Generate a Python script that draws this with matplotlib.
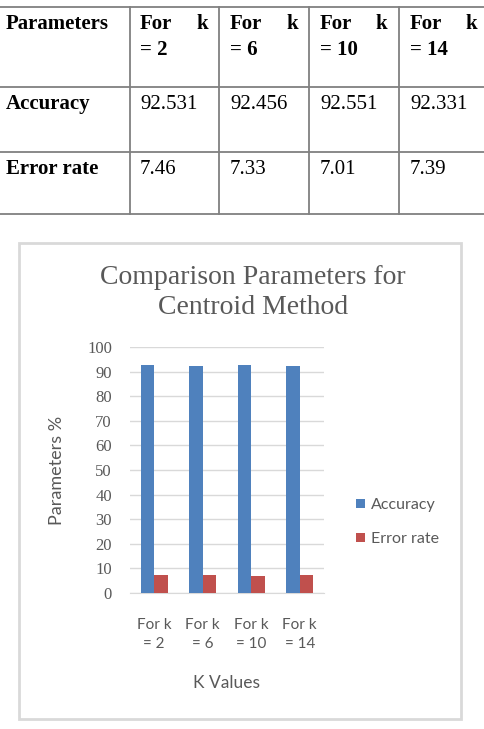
import numpy as np
import matplotlib.pyplot as plt
from matplotlib.patches import Rectangle

# Datos
categorias = ['For k\n= 2', 'For k\n= 6', 'For k\n= 10', 'For k\n= 14']
k_vals = ['2', '6', '10', '14']
accuracy = [92.531, 92.456, 92.551, 92.331]
error_rate = [7.46, 7.33, 7.01, 7.39]
acc_txt = ['92.531', '92.456', '92.551', '92.331']
err_txt = ['7.46', '7.33', '7.01', '7.39']

W, H = 485, 729
fig = plt.figure(figsize=(W/100, H/100), dpi=100)

def fx(px): return px/W
def fy(py): return 1 - py/H

# ---------------- tabla ----------------
lc = '#808080'
serif = 'Liberation Serif'
fig.add_artist(plt.Line2D([0, 1], [fy(7), fy(7)], color=lc, lw=1.3))
for yy in [87, 152, 214]:
    fig.add_artist(plt.Line2D([0, 1], [fy(yy), fy(yy)], color=lc, lw=1.3))
for xx in [130, 219, 309, 399]:
    fig.add_artist(plt.Line2D([fx(xx), fx(xx)], [fy(7), fy(214)], color=lc, lw=1.3))

fs = 15
fig.text(fx(6), fy(29), 'Parameters', family=serif, weight='bold', fontsize=fs, va='baseline')
fig.text(fx(6), fy(109), 'Accuracy', family=serif, weight='bold', fontsize=fs, va='baseline')
fig.text(fx(6), fy(174), 'Error rate', family=serif, weight='bold', fontsize=fs, va='baseline')
col_x = [140, 230, 320, 410]
k_right = [208, 298, 387, 477]
for i in range(4):
    fig.text(fx(col_x[i]), fy(29), 'For', family=serif, weight='bold', fontsize=fs, va='baseline')
    fig.text(fx(k_right[i]), fy(29), 'k', family=serif, weight='bold', fontsize=fs, va='baseline', ha='right')
    fig.text(fx(col_x[i]), fy(55), '= ' + k_vals[i], family=serif, weight='bold', fontsize=fs, va='baseline')
    fig.text(fx(col_x[i]), fy(109), acc_txt[i], family=serif, fontsize=fs, va='baseline')
    fig.text(fx(col_x[i]), fy(174), err_txt[i], family=serif, fontsize=fs, va='baseline')

# ---------------- grafica ----------------
fig.add_artist(Rectangle((fx(19), fy(719)), fx(461) - fx(19), fy(243) - fy(719),
                         transform=fig.transFigure, fill=False, ec='#D9D9D9', lw=2))

gris = '#595959'
fig.text(fx(253), fy(277), 'Comparison Parameters for', family=serif, fontsize=20,
         color=gris, ha='center', va='center')
fig.text(fx(253), fy(308), 'Centroid Method', family=serif, fontsize=20,
         color=gris, ha='center', va='center')

ax = fig.add_axes([fx(130), fy(593), fx(324) - fx(130), fy(347) - fy(593)])
x = np.arange(len(categorias))
bw = 0.28
ax.bar(x - bw/2, accuracy, bw, color='#4F81BD', label='Accuracy', zorder=3)
ax.bar(x + bw/2, error_rate, bw, color='#C0504D', label='Error rate', zorder=3)
ax.set_xlim(-0.5, 3.5)
ax.set_ylim(0, 100)
ax.set_yticks(np.arange(0, 101, 10))
ax.yaxis.grid(True, color='#D9D9D9', lw=1, zorder=0)
for s in ['top', 'right', 'left']:
    ax.spines[s].set_visible(False)
ax.spines['bottom'].set_color('#D9D9D9')
ax.tick_params(length=0)
ax.tick_params(axis='y', pad=13, labelsize=12, labelcolor=gris)
for lb in ax.get_yticklabels():
    lb.set_family(serif)
ax.set_xticks(x)
ax.set_xticklabels(categorias, family='Lato', fontsize=11, color=gris, linespacing=1.5)
ax.tick_params(axis='x', pad=18)

fig.text(fx(227), fy(683), 'K Values', family='Lato', fontsize=12.5, color=gris,
         ha='center', va='center')
fig.text(fx(57), fy(470), 'Parameters %', family='Lato', fontsize=13, color=gris,
         ha='center', va='center', rotation=90)

leg = fig.legend(loc='center left', bbox_to_anchor=(fx(342), fy(522)), frameon=False,
                 handlelength=0.55, handleheight=0.55, handletextpad=0.35,
                 labelspacing=1.25, prop={'family': 'Lato', 'size': 11.5})
for t in leg.get_texts():
    t.set_color(gris)

fig.savefig('out.png', dpi=100)
